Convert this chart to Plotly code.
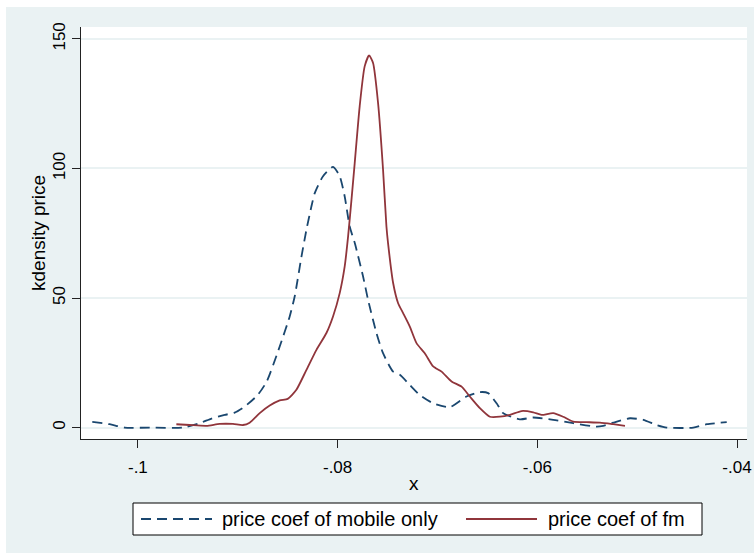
import plotly.graph_objects as go

# ---- data ----
mobile_x = [-0.10457, -0.10284, -0.10133, -0.09883, -0.09552, -0.09382, -0.09261, -0.09131,
            -0.09031, -0.08931, -0.08800, -0.08710, -0.08580, -0.08480, -0.08430, -0.08362,
            -0.08312, -0.08262, -0.08229, -0.08146, -0.08046, -0.07979, -0.07929, -0.07879,
            -0.07828, -0.07745, -0.07695, -0.07611, -0.07545, -0.07444, -0.07377, -0.07278,
            -0.07178, -0.07044, -0.06876, -0.06709, -0.06575, -0.06492, -0.06408, -0.06342,
            -0.06175, -0.06041, -0.05841, -0.05640, -0.05406, -0.05340, -0.05240, -0.05072,
            -0.04939, -0.04805, -0.04704, -0.04438, -0.04303, -0.04103]
mobile_y = [2.2, 1.3, 0.0, 0.0, 0.0, 1.7, 3.5, 4.9,
            5.8, 8.1, 12.6, 17.8, 31.3, 42.9, 50.6, 66.0,
            76.4, 85.4, 90.5, 97.0, 100.6, 97.0, 89.2, 77.6,
            71.2, 58.3, 49.3, 36.5, 28.7, 21.6, 20.4, 16.5,
            12.6, 9.4, 7.9, 12.0, 13.7, 13.3, 9.4, 5.6,
            3.2, 3.9, 3.0, 1.7, 0.4, 0.7, 1.9, 3.6,
            3.0, 1.0, 0.0, 0.0, 1.3, 2.1]

fm_x = [-0.09615, -0.09482, -0.09314, -0.09181, -0.09048, -0.08948, -0.08881, -0.08780,
        -0.08680, -0.08580, -0.08500, -0.08413, -0.08312, -0.08212, -0.08112, -0.08046,
        -0.07979, -0.07929, -0.07895, -0.07861, -0.07829, -0.07779, -0.07729, -0.07685,
        -0.07645, -0.07595, -0.07545, -0.07511, -0.07495, -0.07444, -0.07394, -0.07344,
        -0.07277, -0.07210, -0.07127, -0.07043, -0.06959, -0.06859, -0.06759, -0.06676,
        -0.06575, -0.06475, -0.06375, -0.06275, -0.06158, -0.06041, -0.05957, -0.05841,
        -0.05741, -0.05640, -0.05506, -0.05373, -0.05240, -0.05122]
fm_y = [1.3, 1.0, 0.7, 1.4, 1.4, 1.0, 1.9, 5.6,
        8.5, 10.5, 11.1, 14.6, 22.3, 30.0, 36.5, 42.9,
        51.9, 62.2, 73.8, 88.0, 102.0, 124.0, 139.4, 143.6,
        140.7, 125.3, 99.5, 77.6, 71.2, 55.8, 48.0, 44.2,
        39.0, 32.6, 28.7, 23.6, 21.6, 17.8, 15.8, 12.0,
        7.5, 4.2, 4.2, 4.9, 6.4, 5.9, 4.9, 5.6,
        4.2, 2.3, 2.1, 1.9, 1.3, 0.7]

x_tickvals = [-0.1, -0.08, -0.06, -0.04]
x_ticktext = ["-.1", "-.08", "-.06", "-.04"]
y_tickvals = [0, 50, 100, 150]
y_ticktext = ["0", "50", "100", "150"]
series_names = ["price coef of mobile only", "price coef of fm"]
x_title = "x"
y_title = "kdensity price"

BLUE = "#1A476F"
RED = "#90353B"
BG = "#EAF2F3"
FONT = "Liberation Sans, Arial, sans-serif"

fig = go.Figure()
fig.add_trace(go.Scatter(x=mobile_x, y=mobile_y, mode="lines", name=series_names[0],
                         line=dict(color=BLUE, width=1.8, dash="10px,6px", shape="spline", smoothing=0.6)))
fig.add_trace(go.Scatter(x=fm_x, y=fm_y, mode="lines", name=series_names[1],
                         line=dict(color=RED, width=1.8, shape="spline", smoothing=0.6)))

W, H = 754, 559
L, R, T, B = 81, 7, 27, 120
pw, ph = W - L - R, H - T - B


def px(xp):
    return (xp - L) / pw


def py(yp):
    return (H - B - yp) / ph


shapes = [
    # white outer margins around the grey graph region
    dict(type="rect", xref="paper", yref="paper", x0=px(-5), x1=px(6), y0=py(-5), y1=py(H + 5),
         fillcolor="white", line=dict(width=0), layer="below"),
    dict(type="rect", xref="paper", yref="paper", x0=px(-5), x1=px(W + 5), y0=py(7), y1=py(-5),
         fillcolor="white", line=dict(width=0), layer="below"),
    dict(type="rect", xref="paper", yref="paper", x0=px(-5), x1=px(W + 5), y0=py(H + 5), y1=py(553),
         fillcolor="white", line=dict(width=0), layer="below"),
    # legend box
    dict(type="rect", xref="paper", yref="paper", x0=px(133), x1=px(702), y0=py(535), y1=py(503),
         fillcolor="white", line=dict(color="black", width=1)),
    dict(type="line", xref="paper", yref="paper", x0=px(141), x1=px(212), y0=py(519), y1=py(519),
         line=dict(color=BLUE, width=1.8, dash="10px,6px")),
    dict(type="line", xref="paper", yref="paper", x0=px(466), x1=px(537), y0=py(519), y1=py(519),
         line=dict(color=RED, width=1.8)),
]

annotations = [
    dict(text=series_names[0], xref="paper", yref="paper", x=px(220), y=py(519), xanchor="left",
         yanchor="middle", showarrow=False, font=dict(family=FONT, size=20, color="black")),
    dict(text=series_names[1], xref="paper", yref="paper", x=px(546), y=py(519), xanchor="left",
         yanchor="middle", showarrow=False, font=dict(family=FONT, size=20, color="black")),
    dict(text=x_title, xref="paper", yref="paper", x=0.5, y=py(483), xanchor="center",
         yanchor="middle", showarrow=False, font=dict(family=FONT, size=19, color="black")),
    dict(text=y_title, xref="paper", yref="paper", x=px(38), y=0.5, xanchor="center",
         yanchor="middle", textangle=-90, showarrow=False,
         font=dict(family=FONT, size=19, color="black")),
]

fig.update_layout(
    width=W, height=H,
    margin=dict(l=L, r=R, t=T, b=B, pad=0, autoexpand=False),
    paper_bgcolor=BG, plot_bgcolor="white",
    showlegend=False,
    font=dict(family=FONT, size=17, color="black"),
    shapes=shapes, annotations=annotations,
    xaxis=dict(range=[-0.1057, -0.0390], tickvals=x_tickvals, ticktext=x_ticktext,
               automargin=False,
               showgrid=False, zeroline=False, showline=True, linecolor="#222", linewidth=1.3,
               ticks="outside", ticklen=8, tickcolor="#222", tickwidth=1.2,
               ticklabelstandoff=4, tickfont=dict(size=17)),
    yaxis=dict(range=[-4.4, 154.6], tickvals=y_tickvals, ticktext=y_ticktext, tickangle=-90,
               automargin=False,
               showgrid=True, gridcolor=BG, gridwidth=1.6, zeroline=False,
               showline=True, linecolor="#222", linewidth=1.3,
               ticks="outside", ticklen=8, tickcolor="#222", tickwidth=1.2,
               tickfont=dict(size=17)),
)

fig.write_html(
    "out.html",
    config={"displayModeBar": False},
    post_script="document.body.style.margin='0';document.body.style.overflow='hidden';",
)
